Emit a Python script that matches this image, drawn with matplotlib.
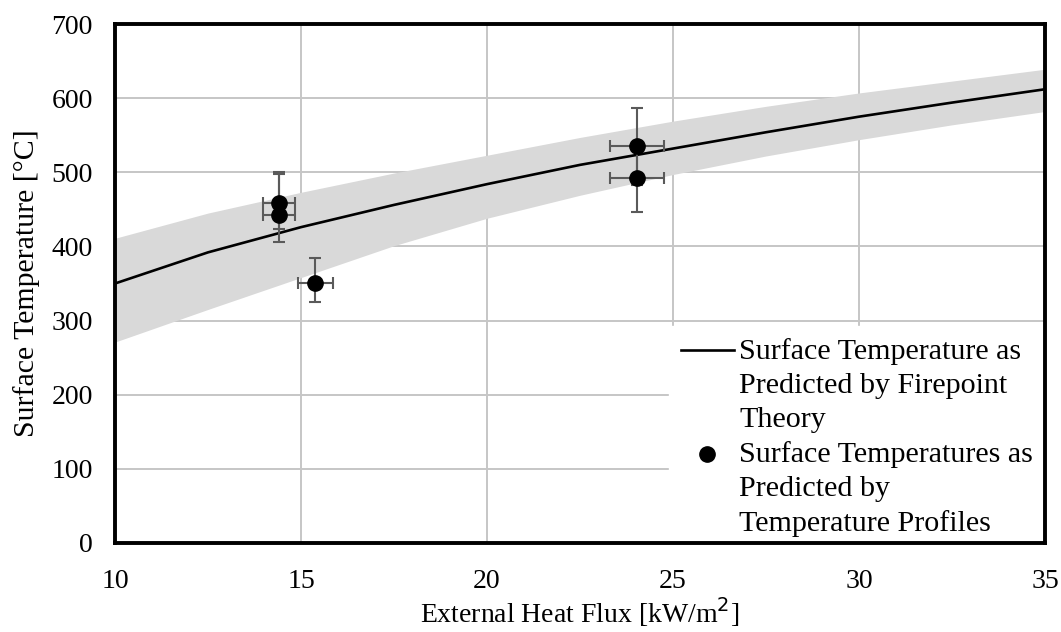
import matplotlib
matplotlib.use("Agg")
import matplotlib.pyplot as plt
from matplotlib.legend_handler import HandlerLine2D
import numpy as np

# Firepoint theory curve and its uncertainty band
flux_curve = [10.0, 12.5, 15.0, 17.5, 20.0, 22.5, 25.0, 27.5, 30.0, 32.5, 35.0]
temp_curve = [350, 392, 426, 456, 484, 510, 532, 554, 575, 594, 612]
temp_upper = [411, 445, 473, 499, 523, 547, 569, 589, 607, 623, 639]
temp_lower = [271, 315, 358, 401, 438, 469, 497, 522, 544, 564, 582]

# Temperature-profile points
flux_pts = [14.4, 14.4, 15.38, 24.03, 24.03]
temp_pts = [459, 443, 351, 535, 492]
xerr_pts = [0.43, 0.43, 0.47, 0.73, 0.73]
yerr_lo = [35, 37, 26, 52, 45]
yerr_hi = [42, 55, 34, 52, 45]

xticks = [10, 15, 20, 25, 30, 35]
yticks = [0, 100, 200, 300, 400, 500, 600, 700]

label_curve = 'Surface Temperature as\nPredicted by Firepoint\nTheory'
label_pts = 'Surface Temperatures as\nPredicted by\nTemperature Profiles'

plt.rcParams['font.family'] = ['Liberation Serif', 'DejaVu Serif']

LEG_FS = 21.6
LINE_PITCH_PT = 25.2  # distance between text lines in the legend, points


class TopAlignedLine(HandlerLine2D):
    """Place the legend handle on the first text line (like Excel)."""
    def __init__(self, shift, **kw):
        super().__init__(**kw)
        self.shift = shift

    def create_artists(self, legend, orig_handle, xdescent, ydescent,
                       width, height, fontsize, trans):
        arts = super().create_artists(legend, orig_handle, xdescent, ydescent,
                                      width, height, fontsize, trans)
        for a in arts:
            a.set_ydata(np.asarray(a.get_ydata(), dtype=float) + self.shift)
        return arts


fig = plt.figure(figsize=(10.61, 6.32), dpi=100)
ax = fig.add_axes([115/1061, 1 - 543/632, (1045-115)/1061, (543-24)/632])

ax.set_xlim(10, 35)
ax.set_ylim(0, 700)
ax.set_xticks(xticks)
ax.set_yticks(yticks)
ax.grid(True, color='#c6c6c6', linewidth=1.4, zorder=0)
ax.set_axisbelow(True)

ax.fill_between(flux_curve, temp_lower, temp_upper, color='#d9d9d9', linewidth=0, zorder=1)
line, = ax.plot(flux_curve, temp_curve, color='black', linewidth=1.9, zorder=2,
                label=label_curve)

ax.errorbar(flux_pts, temp_pts, xerr=xerr_pts, yerr=[yerr_lo, yerr_hi],
            fmt='none', ecolor='#5a5a5a', elinewidth=1.5, capsize=4, capthick=1.5, zorder=3)
pts, = ax.plot(flux_pts, temp_pts, linestyle='none', marker='o', markersize=11,
               color='black', zorder=4, label=label_pts)

for s in ax.spines.values():
    s.set_linewidth(2.8)
    s.set_color('black')
    s.set_zorder(6)

ax.tick_params(axis='both', length=0, labelsize=20)
ax.tick_params(axis='x', pad=19)
ax.tick_params(axis='y', pad=16)

ax.set_xlabel('External Heat Flux [kW/m$^{2}$]', fontsize=20)
ax.set_ylabel('Surface Temperature [°C]', fontsize=21.5)
ax.xaxis.label.set_va('center')
ax.yaxis.label.set_va('center')
ax.xaxis.set_label_coords(0.5, (543 - 612) / 519)
ax.yaxis.set_label_coords((27 - 115) / 930, 0.5)

leg = ax.legend(handles=[line, pts], loc='lower right',
                bbox_to_anchor=(1.0, -6 / 519),
                fontsize=LEG_FS, frameon=True, fancybox=False, edgecolor='white',
                facecolor='white', framealpha=1, borderpad=0.4, handlelength=1.78,
                handletextpad=0.17, labelspacing=0.27, borderaxespad=0.0,
                handler_map={line: TopAlignedLine(LINE_PITCH_PT),
                             pts: TopAlignedLine(LINE_PITCH_PT)})
for t in leg.get_texts():
    t.set_linespacing(1.39)
leg.set_zorder(5)

fig.savefig('out.png', dpi=100)
